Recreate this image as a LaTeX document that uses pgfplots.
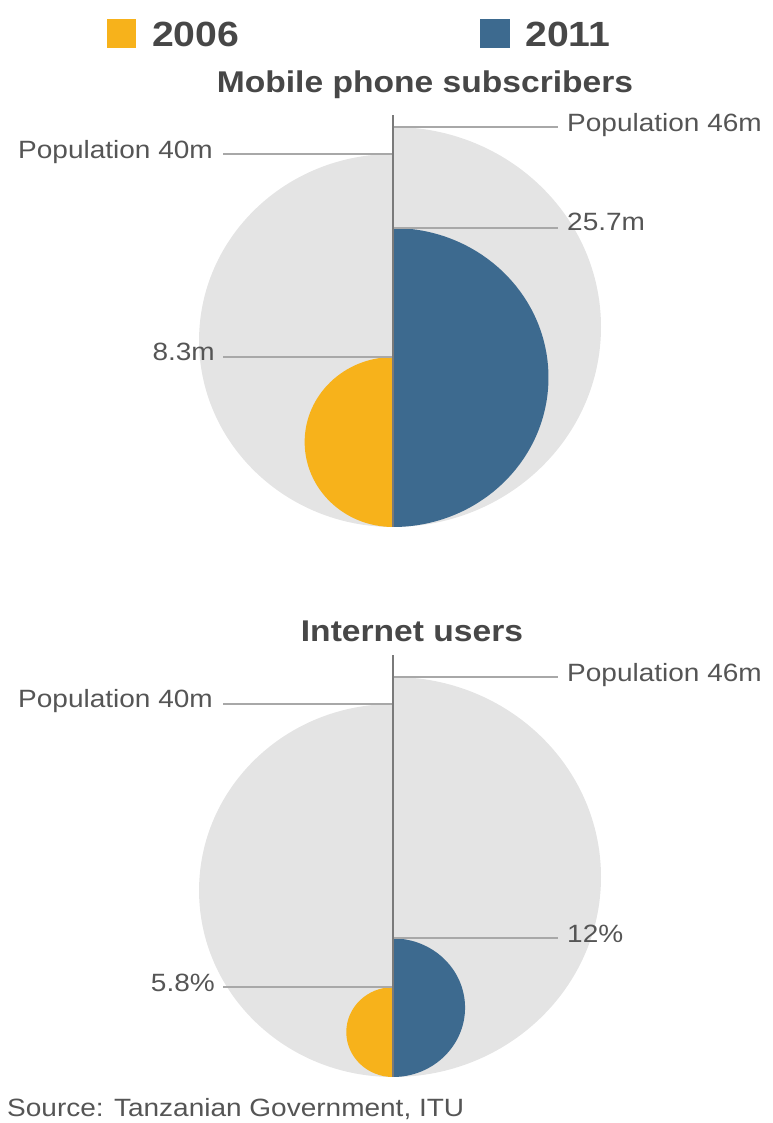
\documentclass[border=0pt]{standalone}
\usepackage{pgfplots}
\pgfplotsset{compat=1.18}
\usepackage{pgfplotstable}
\usepackage{fontspec}
\setmainfont[FakeStretch=1.12]{Liberation Sans}
\definecolor{popgrey}{HTML}{E4E4E4}
\definecolor{c2006}{HTML}{F7B21B}
\definecolor{c2011}{HTML}{3D6A8F}
\definecolor{labcol}{HTML}{555555}
\definecolor{titcol}{HTML}{474747}
\definecolor{leadcol}{HTML}{A8A8A8}
\definecolor{axcol}{HTML}{7A7A7A}

% half-disc marks (centre of the full circle at the mark position)
\pgfdeclareplotmark{halfL}{%
  \pgfpathmoveto{\pgfqpoint{0pt}{\pgfplotmarksize}}%
  \pgfpatharc{90}{270}{1.04\pgfplotmarksize and \pgfplotmarksize}%
  \pgfpathclose
  \pgfusepathqfill}
\pgfdeclareplotmark{halfR}{%
  \pgfpathmoveto{\pgfqpoint{0pt}{-\pgfplotmarksize}}%
  \pgfpatharc{-90}{90}{1.04\pgfplotmarksize and \pgfplotmarksize}%
  \pgfpathclose
  \pgfusepathqfill}

% values in millions
\pgfplotstableread{
cls m
popL 40
popR 46
y2006 8.3
y2011 25.7
}\mobile
% population (millions) and share of internet users (%)
\pgfplotstableread{
cls pop pct
popL 40 100
popR 46 100
y2006 40 5.8
y2011 46 12
}\internet

\pgfplotsset{
  halves/.style={scatter, only marks, draw=none,
    on layer=axis background,
    point meta=explicit symbolic,
    scatter/classes={
      popL={mark=halfL, fill=popgrey},
      popR={mark=halfR, fill=popgrey},
      y2006={mark=halfL, fill=c2006},
      y2011={mark=halfR, fill=c2011}},
    scatter/@pre marker code/.append style={/tikz/mark size=\rad}},
  leader/.style={no marks, draw=leadcol, line width=1.3pt, on layer=axis foreground},
  divider/.style={no marks, draw=axcol, line width=2.6pt, on layer=axis foreground},
}
\newcommand{\lab}{\fontsize{25}{30}\selectfont}
\newcommand{\tit}{\fontsize{30}{36}\selectfont\bfseries}
\newcommand{\leg}{\fontsize{35}{42}\selectfont\bfseries}

\begin{document}
\begin{tikzpicture}
\begin{axis}[set layers=standard, scale only axis, width=772pt, height=1123pt,
  xmin=0, xmax=772, ymin=0, ymax=1123, hide axis, clip=false]

% ---- Mobile phone subscribers (bottom at 596) ----
\addplot[halves, visualization depends on={186.5*sqrt(\thisrow{m}/40) \as \rad}]
  table[x expr=393, y expr={596+186.5*sqrt(\thisrow{m}/40)}, meta=cls] {\mobile};
\addplot[leader] coordinates {(223,969) (393,969)};
\addplot[leader] coordinates {(393,996) (558,996)};
\addplot[leader] coordinates {(393,895) (558,895)};
\addplot[leader] coordinates {(223,766) (393,766)};
\addplot[divider] coordinates {(393,596) (393,1008)};

% ---- Internet users (bottom at 46) ----
\addplot[halves, visualization depends on={186.5*sqrt(\thisrow{pop}*\thisrow{pct}/4000) \as \rad}]
  table[x expr=393, y expr={46+186.5*sqrt(\thisrow{pop}*\thisrow{pct}/4000)}, meta=cls] {\internet};
\addplot[leader] coordinates {(223,419) (393,419)};
\addplot[leader] coordinates {(393,446) (558,446)};
\addplot[leader] coordinates {(393,185) (558,185)};
\addplot[leader] coordinates {(223,136) (393,136)};
\addplot[divider] coordinates {(393,46) (393,468)};

% ---- texts ----
\begin{pgfonlayer}{axis foreground}
\node[anchor=south west, fill=c2006, minimum width=29pt, minimum height=29pt, inner sep=0pt] at (axis cs:107,1075) {};
\node[anchor=base west, font=\leg, text=titcol, inner sep=0pt] at (axis cs:152,1076) {2006};
\node[anchor=south west, fill=c2011, minimum width=30pt, minimum height=29pt, inner sep=0pt] at (axis cs:480,1075) {};
\node[anchor=base west, font=\leg, text=titcol, inner sep=0pt] at (axis cs:525,1076) {2011};

\node[anchor=base, font=\tit, text=titcol, inner sep=0pt] at (axis cs:425,1030) {Mobile phone subscribers};
\node[anchor=base east, font=\lab, text=labcol, inner sep=0pt] at (axis cs:213,964) {Population 40m};
\node[anchor=base west, font=\lab, text=labcol, inner sep=0pt] at (axis cs:567,991) {Population 46m};
\node[anchor=base west, font=\lab, text=labcol, inner sep=0pt] at (axis cs:567,892) {25.7m};
\node[anchor=base east, font=\lab, text=labcol, inner sep=0pt] at (axis cs:215,762) {8.3m};

\node[anchor=base, font=\tit, text=titcol, inner sep=0pt] at (axis cs:412,481) {Internet users};
\node[anchor=base east, font=\lab, text=labcol, inner sep=0pt] at (axis cs:213,415) {Population 40m};
\node[anchor=base west, font=\lab, text=labcol, inner sep=0pt] at (axis cs:567,441) {Population 46m};
\node[anchor=base west, font=\lab, text=labcol, inner sep=0pt] at (axis cs:567,180) {12\%};
\node[anchor=base east, font=\lab, text=labcol, inner sep=0pt] at (axis cs:215,131) {5.8\%};

\node[anchor=base west, font=\lab, text=labcol, inner sep=0pt] at (axis cs:7,6) {Source: Tanzanian Government, ITU};
\end{pgfonlayer}
\end{axis}
\pgfresetboundingbox
\path (current axis.south west) rectangle (current axis.north east);
\end{tikzpicture}
\end{document}
